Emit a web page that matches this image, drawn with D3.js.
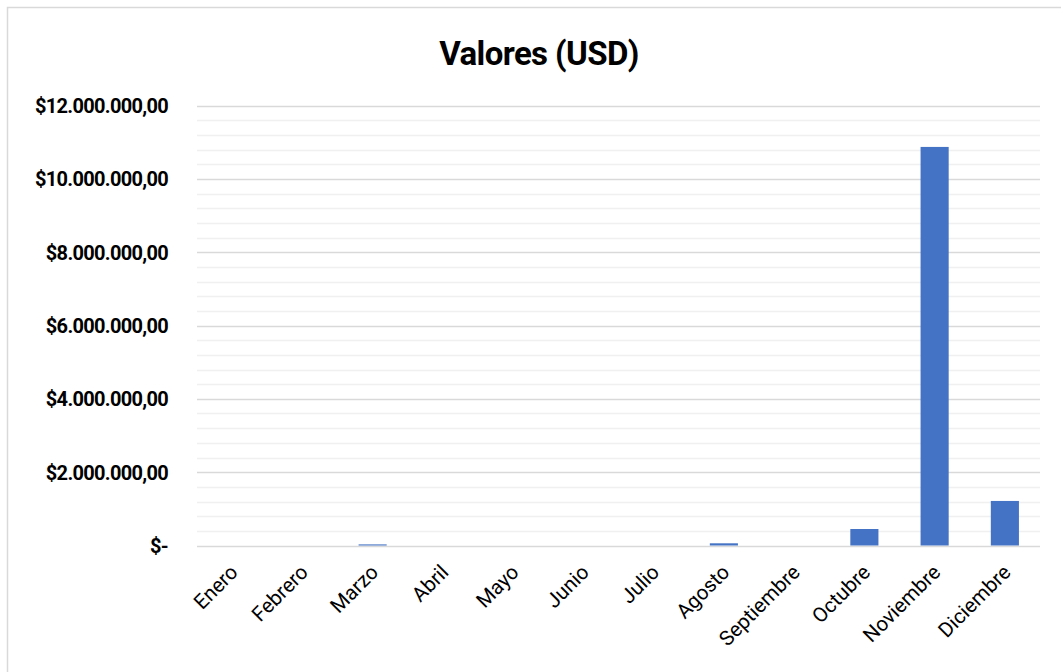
<!DOCTYPE html>
<html>
<head>
<meta charset="utf-8">
<script src="https://cdn.jsdelivr.net/npm/d3@7"></script>
<style>
  html, body { margin: 0; padding: 0; background: #fff; }
  svg { display: block; }
</style>
</head>
<body>
<svg id="chart" width="1061" height="672"></svg>
<script>
// Monthly values in USD
const months = ["Enero", "Febrero", "Marzo", "Abril", "Mayo", "Junio",
                "Julio", "Agosto", "Septiembre", "Octubre", "Noviembre", "Diciembre"];
const values = [0, 0, 30000, 0, 0, 0, 0, 60000, 0, 450000, 10870000, 1215000];
const yTicks = [0, 2000000, 4000000, 6000000, 8000000, 10000000, 12000000];
const minorStep = 400000;
const chartTitle = "Valores (USD)";

const W = 1061, H = 672;
const margin = { left: 197, right: 21, top: 105.5, bottom: 126.5 };
const FONT = "Roboto, 'DejaVu Sans Condensed', sans-serif";
const svg = d3.select("#chart");

// outer chart frame
svg.append("rect")
  .attr("x", 7.5).attr("y", 7.5)
  .attr("width", W + 20).attr("height", H + 20)
  .attr("fill", "#fff").attr("stroke", "#d9d9d9").attr("stroke-width", 1.5);

const x = d3.scaleBand()
  .domain(months)
  .range([margin.left, W - margin.right])
  .paddingInner(0.6)
  .paddingOuter(0.3);

const y = d3.scaleLinear()
  .domain([0, 12000000])
  .range([H - margin.bottom, margin.top]);

// minor gridlines
const minor = d3.range(0, 12000000 + 1, minorStep).filter(v => v % 2000000 !== 0);
svg.append("g")
  .selectAll("line").data(minor).join("line")
  .attr("x1", margin.left).attr("x2", W - margin.right)
  .attr("y1", d => Math.round(y(d)) + 0.5).attr("y2", d => Math.round(y(d)) + 0.5)
  .attr("stroke", "#f0f0f0").attr("stroke-width", 1.3);

// major gridlines
svg.append("g")
  .selectAll("line").data(yTicks).join("line")
  .attr("x1", margin.left).attr("x2", W - margin.right)
  .attr("y1", d => Math.round(y(d)) + 0.5).attr("y2", d => Math.round(y(d)) + 0.5)
  .attr("stroke", "#d9d9d9").attr("stroke-width", 1.5);

// bars
svg.append("g")
  .selectAll("rect").data(months).join("rect")
  .attr("x", d => x(d))
  .attr("width", x.bandwidth())
  .attr("y", (d, i) => y(values[i]))
  .attr("height", (d, i) => y(0) - y(values[i]))
  .attr("fill", "#4472c4");

// y axis labels
const fmt = v => v === 0 ? "$-" :
  "$" + d3.format(",.2f")(v).replace(/,/g, "#").replace(/\./g, ",").replace(/#/g, ".");
const yAxis = d3.axisLeft(y).tickValues(yTicks).tickSize(0).tickPadding(0).tickFormat(fmt);
const gy = svg.append("g")
  .attr("transform", `translate(${margin.left - 29},0)`)
  .call(yAxis);
gy.select(".domain").remove();
gy.selectAll("text")
  .attr("font-family", FONT)
  .attr("font-size", 20)
  .attr("font-weight", "bold")
  .attr("letter-spacing", -0.7)
  .attr("fill", "#000")
  .attr("dy", "0.35em");

// x axis labels
const xAxis = d3.axisBottom(x).tickSize(0).tickPadding(0);
const gx = svg.append("g")
  .attr("transform", `translate(0,${H - margin.bottom})`)
  .call(xAxis);
gx.select(".domain").remove();
gx.selectAll("text")
  .attr("font-family", FONT)
  .attr("font-size", 20.5)
  .attr("fill", "#000")
  .attr("text-anchor", "end")
  .attr("dy", 0)
  .attr("y", 0)
  .attr("transform", "translate(7,28) rotate(-45)");

// title
svg.append("text")
  .attr("x", 539).attr("y", 65)
  .attr("text-anchor", "middle")
  .attr("font-family", FONT)
  .attr("font-size", 33)
  .attr("font-weight", "bold")
  .attr("letter-spacing", -0.6)
  .attr("fill", "#000")
  .text(chartTitle);
</script>
</body>
</html>
